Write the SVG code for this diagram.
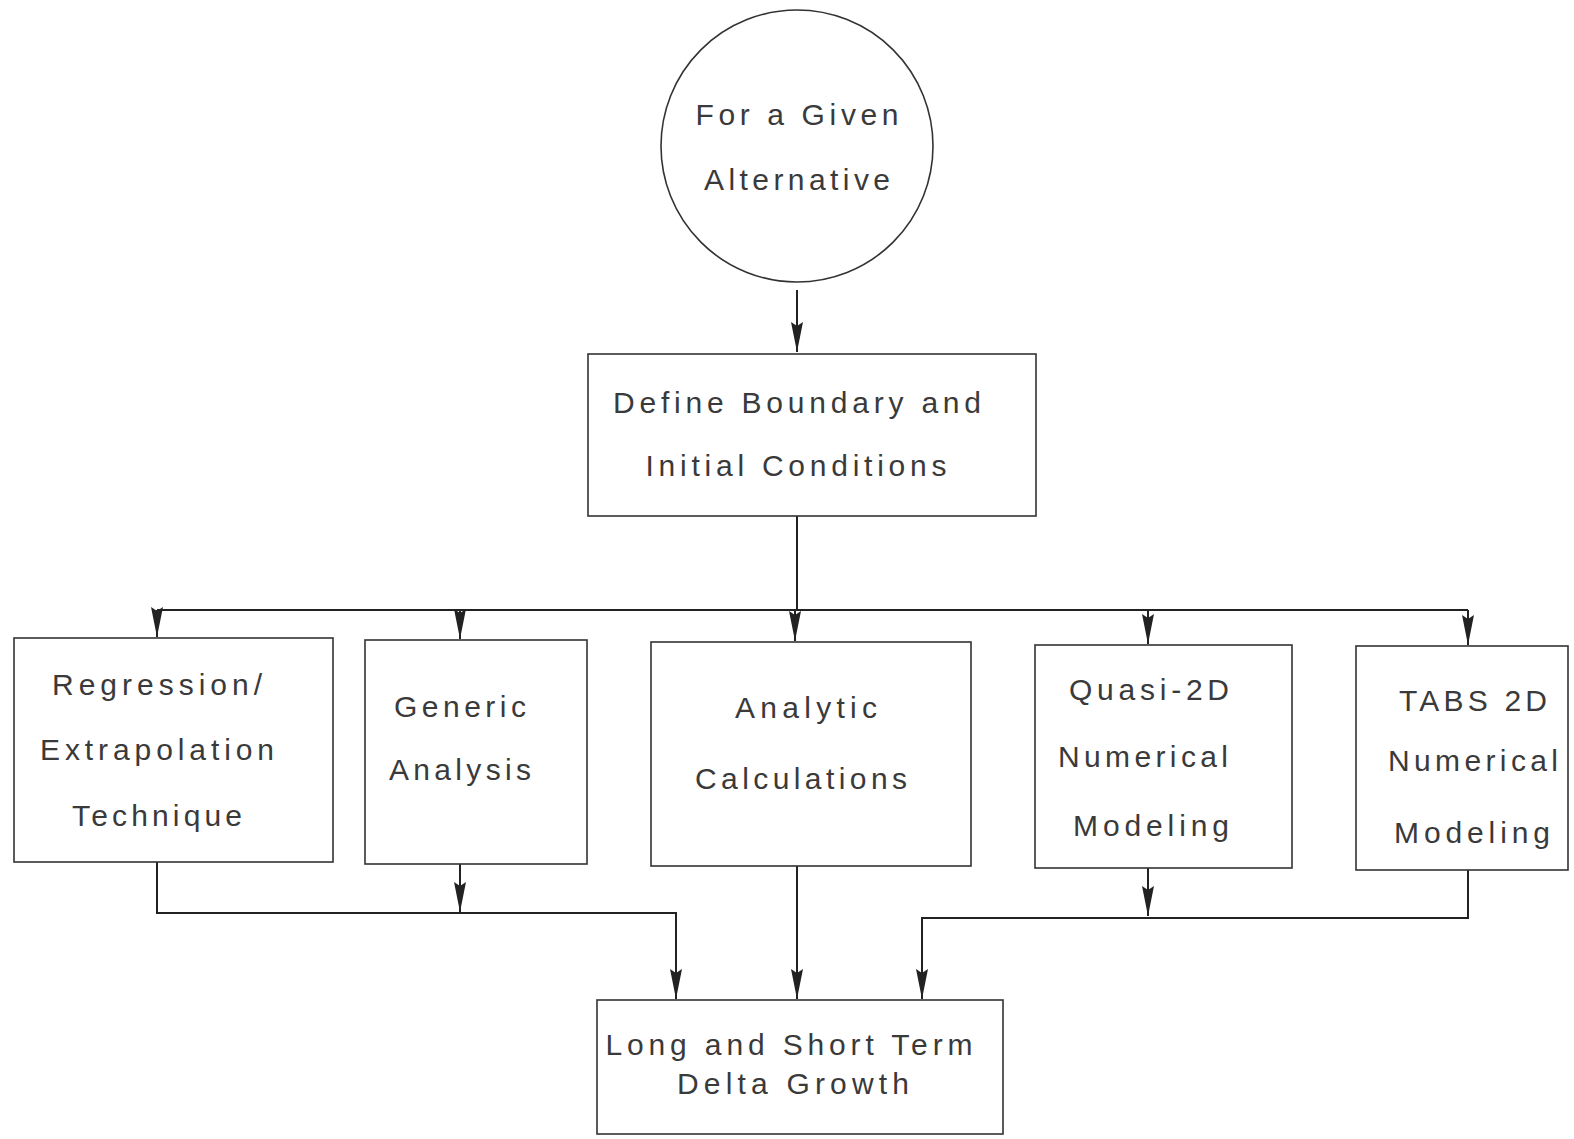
<svg xmlns="http://www.w3.org/2000/svg" width="1574" height="1139" viewBox="0 0 1574 1139">
<defs>
<marker id="ah" viewBox="0 0 30 12" refX="30" refY="6" markerWidth="30" markerHeight="12" markerUnits="userSpaceOnUse" orient="auto">
<path d="M0,0 L4,6 L0,12 L30,6 Z" fill="#222"/>
</marker>
<style>
.box{fill:#fff;stroke:#333;stroke-width:1.6}
.ln{fill:none;stroke:#222;stroke-width:2}
.t{font-family:"Liberation Sans",Arial,sans-serif;font-size:30px;fill:#3a3a3a;text-anchor:middle}
</style>
</defs>
<rect width="1574" height="1139" fill="#fff"/>
<g id="connectors">
<path class="ln" d="M797,290 V352" marker-end="url(#ah)"/>
<path class="ln" d="M797,516 V610"/>
<path class="ln" d="M157,610 H1468"/>
<path class="ln" d="M157,610 V637" marker-end="url(#ah)"/>
<path class="ln" d="M460,610 V639" marker-end="url(#ah)"/>
<path class="ln" d="M795,610 V641" marker-end="url(#ah)"/>
<path class="ln" d="M1148,610 V644" marker-end="url(#ah)"/>
<path class="ln" d="M1468,610 V645" marker-end="url(#ah)"/>
<path class="ln" d="M157,862 V913 H676 V999" marker-end="url(#ah)"/>
<path class="ln" d="M460,864 V912" marker-end="url(#ah)"/>
<path class="ln" d="M797,866 V999" marker-end="url(#ah)"/>
<path class="ln" d="M1148,868 V916" marker-end="url(#ah)"/>
<path class="ln" d="M1468,870 V918 H922 V999" marker-end="url(#ah)"/>
</g>
<g id="start">
<circle cx="797" cy="146" r="136" class="box"/>
<text class="t" x="797" y="125" textLength="203" lengthAdjust="spacing">For a Given</text>
<text class="t" x="797" y="190" textLength="186" lengthAdjust="spacing">Alternative</text>
</g>
<g id="define">
<rect x="588" y="354" width="448" height="162" class="box"/>
<text class="t" x="797" y="413" textLength="368" lengthAdjust="spacing">Define Boundary and</text>
<text class="t" x="796" y="476" textLength="301" lengthAdjust="spacing">Initial Conditions</text>
</g>
<g id="regression">
<rect x="14" y="638" width="319" height="224" class="box"/>
<text class="t" x="157" y="695" textLength="210" lengthAdjust="spacing">Regression/</text>
<text class="t" x="157" y="760" textLength="234" lengthAdjust="spacing">Extrapolation</text>
<text class="t" x="157" y="826" textLength="170" lengthAdjust="spacing">Technique</text>
</g>
<g id="generic">
<rect x="365" y="640" width="222" height="224" class="box"/>
<text class="t" x="460" y="717" textLength="132" lengthAdjust="spacing">Generic</text>
<text class="t" x="460" y="780" textLength="142" lengthAdjust="spacing">Analysis</text>
</g>
<g id="analytic">
<rect x="651" y="642" width="320" height="224" class="box"/>
<text class="t" x="806" y="718" textLength="142" lengthAdjust="spacing">Analytic</text>
<text class="t" x="801" y="789" textLength="212" lengthAdjust="spacing">Calculations</text>
</g>
<g id="quasi">
<rect x="1035" y="645" width="257" height="223" class="box"/>
<text class="t" x="1149" y="700" textLength="160" lengthAdjust="spacing">Quasi-2D</text>
<text class="t" x="1143" y="767" textLength="170" lengthAdjust="spacing">Numerical</text>
<text class="t" x="1151" y="836" textLength="156" lengthAdjust="spacing">Modeling</text>
</g>
<g id="tabs">
<rect x="1356" y="646" width="212" height="224" class="box"/>
<text class="t" x="1473" y="711" textLength="148" lengthAdjust="spacing">TABS 2D</text>
<text class="t" x="1473" y="771" textLength="170" lengthAdjust="spacing">Numerical</text>
<text class="t" x="1472" y="843" textLength="156" lengthAdjust="spacing">Modeling</text>
</g>
<g id="delta">
<rect x="597" y="1000" width="406" height="134" class="box"/>
<text class="t" x="789" y="1055" textLength="367" lengthAdjust="spacing">Long and Short Term</text>
<text class="t" x="793" y="1094" textLength="232" lengthAdjust="spacing">Delta Growth</text>
</g>
</svg>
